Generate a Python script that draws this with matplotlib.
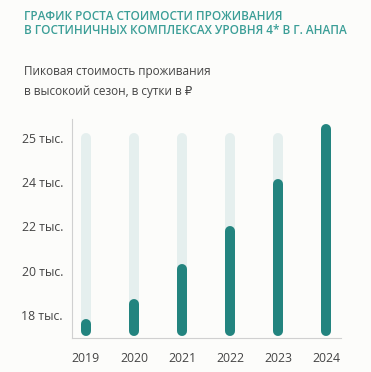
import matplotlib
matplotlib.use("Agg")
import matplotlib.pyplot as plt
import numpy as np

years = ["2019", "2020", "2021", "2022", "2023", "2024"]
values = [17.6, 18.5, 20.1, 21.8, 23.9, 25.2]   # тыс. ₽
track_max = 25.0
base = 17.3
tick_vals = [18, 20, 22, 24, 25]
tick_labels = ["18 тыс.", "20 тыс.", "22 тыс.", "24 тыс.", "25 тыс."]

teal = "#23847f"
light = "#e5efee"
bg = "#fcfcfa"
title_c = "#3b9e97"
text_c = "#444444"

pos = np.arange(len(tick_vals))
def _fwd(v):
    v = np.asarray(v, dtype=float)
    out = np.interp(v, tick_vals, pos)
    lo = v < tick_vals[0]
    hi = v > tick_vals[-1]
    out = np.where(lo, (v - tick_vals[0]) / (tick_vals[1] - tick_vals[0]), out)
    out = np.where(hi, pos[-1] + (v - tick_vals[-1]) / (tick_vals[-1] - tick_vals[-2]), out)
    return out
def inv(p):
    p = np.asarray(p, dtype=float)
    out = np.interp(p, pos, tick_vals)
    out = np.where(p < 0, tick_vals[0] + p * (tick_vals[1] - tick_vals[0]), out)
    out = np.where(p > pos[-1], tick_vals[-1] + (p - pos[-1]) * (tick_vals[-1] - tick_vals[-2]), out)
    return out

plt.rcParams['font.family'] = ['Open Sans', 'DejaVu Sans']
fig = plt.figure(figsize=(3.71, 3.72), dpi=100, facecolor=bg)
ax = fig.add_axes([0.194, 0.091, 0.725, 0.589], facecolor=bg)
ax.set_yscale('function', functions=(_fwd, inv))

x = np.arange(len(years))
lw = 10 * 72 / 100
ax.vlines(x, base, track_max, colors=light, linewidth=lw, capstyle='round')
ax.vlines(x, base, values, colors=teal, linewidth=lw, capstyle='round')

ax.set_xlim(-0.29, 5.31)
ax.set_ylim(16.96, 25.42)
ax.set_yticks(tick_vals)
ax.set_yticklabels(tick_labels)
ax.set_xticks(x)
ax.set_xticklabels(years)
ax.yaxis.set_minor_locator(matplotlib.ticker.NullLocator())
ax.tick_params(axis='both', length=0, labelsize=8.8, colors=text_c)
ax.tick_params(axis='x', pad=10)
ax.tick_params(axis='y', pad=6.5)
for s in ['top', 'right']:
    ax.spines[s].set_visible(False)
for s in ['left', 'bottom']:
    ax.spines[s].set_color('#d0d0d0')
    ax.spines[s].set_linewidth(0.8)

fig.text(24/371, 1 - 16/372, "ГРАФИК РОСТА СТОИМОСТИ ПРОЖИВАНИЯ",
         color=title_c, fontsize=8.45, fontweight='semibold', va='center', ha='left')
fig.text(24/371, 1 - 31/372, "В ГОСТИНИЧНЫХ КОМПЛЕКСАХ УРОВНЯ 4* В Г. АНАПА",
         color=title_c, fontsize=8.45, fontweight='semibold', va='center', ha='left')
fig.text(24/371, 1 - 72/372, "Пиковая стоимость проживания",
         color=text_c, fontsize=8.5, va='center', ha='left')
fig.text(24/371, 1 - 91/372, "в высокоий сезон, в сутки в ₽",
         color=text_c, fontsize=8.5, va='center', ha='left')

fig.savefig("out.png", dpi=100, facecolor=bg)
